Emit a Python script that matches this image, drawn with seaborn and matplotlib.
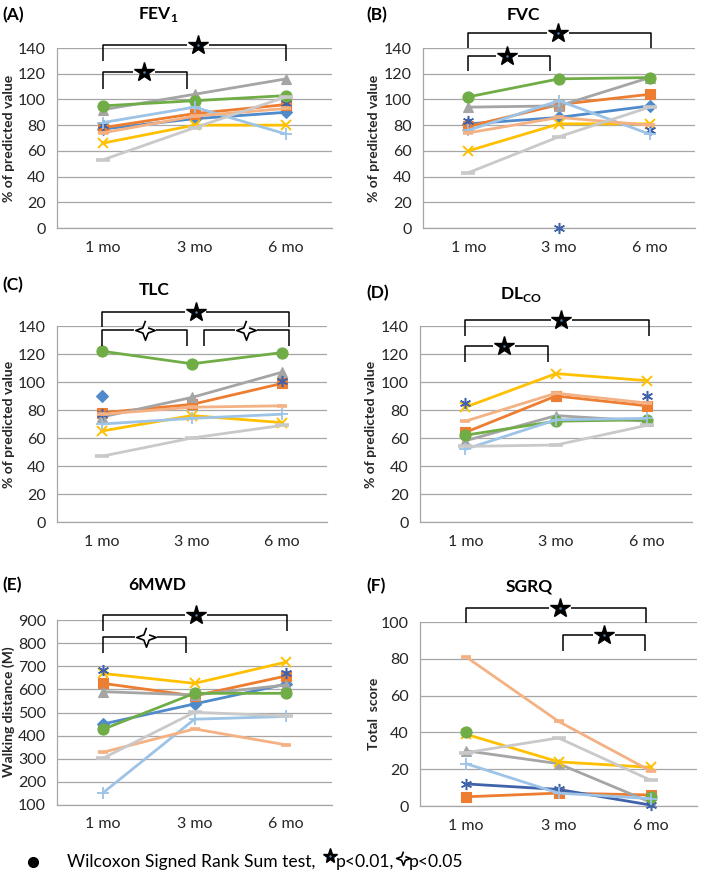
import numpy as np
import pandas as pd
import matplotlib
matplotlib.use("Agg")
import matplotlib.pyplot as plt
import seaborn as sns

nan = np.nan

# time points
months = ["1 mo", "3 mo", "6 mo"]

# one row per patient series: diamond, square, triangle, x, asterisk, circle, plus, dash, long dash
fev1 = [
    [77, 85, 90],
    [78, 89, 96],
    [92, 104, 116],
    [66, 80, 80],
    [80, nan, 97],
    [95, 99, 103],
    [82, 94, 73],
    [74, 87, 93],
    [53, 78, 102],
]
fvc = [
    [81, 86, 95],
    [79, 96, 104],
    [94, 95, 117],
    [60, 81, 81],
    [83, 0, 76],
    [102, 116, 117],
    [76, 99, 73],
    [74, 86, 80],
    [43, 71, 94],
]
tlc = [
    [90, nan, nan],
    [78, 84, 99],
    [75, 89, 107],
    [65, 76, 71],
    [77, nan, 101],
    [122, 113, 121],
    [70, 74, 77],
    [77, 82, 83],
    [47, 60, 69],
]
dlco = [
    [nan, nan, nan],
    [64, 90, 83],
    [58, 76, 72],
    [82, 106, 101],
    [85, nan, 90],
    [62, 72, 73],
    [52, 73, 74],
    [72, 92, 85],
    [54, 55, 69],
]
mwd = [
    [450, 537, 623],
    [626, 572, 658],
    [590, 576, 619],
    [669, 626, 718],
    [684, nan, 672],
    [427, 583, 583],
    [152, 471, 483],
    [328, 429, 360],
    [302, 501, 485],
]
sgrq = [
    [nan, nan, nan],
    [5, 7, 6],
    [30, 23, 2],
    [39, 24, 21],
    [12, 9, 0.5],
    [40, nan, 5],
    [23, 7, 4],
    [81, 46, 19],
    [29, 37, 14],
]

colors = ["#4F8ACB", "#ED7D31", "#A5A5A5", "#FFC000", "#3F62AA",
          "#70AD47", "#9DC3E6", "#F4B183", "#C9C9C9"]
star_verts = [(np.cos(a) * r, np.sin(a) * r)
              for k, a in enumerate(np.linspace(np.pi / 2, np.pi / 2 + 2 * np.pi, 9)[:-1])
              for r in [1.0 if k % 2 == 0 else 0.38]]
markers = ["D", "s", "^", "x", (6, 2, 0), "o", "+", "_", "_"]
msizes = [6.5, 7, 7.5, 7.5, 8, 8, 8, 7, 10]
mews = [0.8, 0.8, 0.8, 1.4, 1.1, 0.8, 1.3, 2.6, 2.6]

sns.set_theme(style="white")
plt.rcParams["font.family"] = ["Lato", "DejaVu Sans"]
plt.rcParams["mathtext.fontset"] = "custom"
plt.rcParams["mathtext.rm"] = "Lato"
plt.rcParams["mathtext.bf"] = "Lato:bold"

W, H = 709, 873
fig = plt.figure(figsize=(W / 100, H / 100), dpi=100)


def box(l, r, t, b):
    return [l / W, 1 - b / H, (r - l) / W, (b - t) / H]


def ptext(x, y, s, **kw):
    fig.text(x / W, 1 - y / H, s, **kw)


def filled_star(ax, x, y, ms=15):
    ax.plot(x, y, marker="*", ms=ms, color="black", mec="black", clip_on=False, zorder=20)
    ax.plot(x, y, marker="o", ms=1.8, color="#4F81BD", mec="none", clip_on=False, zorder=21)


def open_star(ax, x, y, ms=14):
    ax.plot(x, y, marker=star_verts, ms=ms, mfc="white", mec="black", mew=1.2,
            clip_on=False, zorder=20)


def bracket(ax, x0, x1, y, ydrop, sx, kind, gap=0.12):
    kw = dict(color="black", lw=1.1, clip_on=False, zorder=15, solid_capstyle="butt")
    ax.plot([x0, x0, sx - gap], [ydrop, y, y], **kw)
    ax.plot([sx + gap, x1, x1], [y, y, ydrop], **kw)
    if kind == "f":
        filled_star(ax, sx, y)
    else:
        open_star(ax, sx, y)


def panel(rect, rows, ylim, yticks, brackets, no_line=()):
    ax = fig.add_axes(rect)
    for i, vals in enumerate(rows):
        df = pd.DataFrame({"t": [0, 1, 2], "v": vals}).dropna()
        if df.empty:
            continue
        gap = np.isnan(vals[1]) and not np.isnan(vals[0])
        line = not (gap or i in no_line or len(df) < 2)
        sns.lineplot(data=df, x="t", y="v", ax=ax, color=colors[i],
                     marker=markers[i], markersize=msizes[i],
                     markeredgecolor=colors[i], markerfacecolor=colors[i],
                     markeredgewidth=mews[i], linewidth=2.0 if line else 0,
                     zorder=3 + i, clip_on=False)
    ax.set_xlim(-0.5, 2.5)
    ax.set_ylim(*ylim)
    ax.set_yticks(yticks)
    ax.set_xticks([0, 1, 2])
    ax.set_xticklabels(months)
    ax.set_xlabel("")
    ax.set_ylabel("")
    ax.set_axisbelow(True)
    ax.yaxis.grid(True, color="#A6A6A6", lw=0.9)
    ax.xaxis.grid(False)
    for s in ["top", "right"]:
        ax.spines[s].set_visible(False)
    for s in ["left", "bottom"]:
        ax.spines[s].set_color("#A6A6A6")
        ax.spines[s].set_linewidth(0.9)
    ax.tick_params(axis="y", length=0, pad=8, labelsize=11.5, colors="#262626")
    ax.tick_params(axis="x", length=0, pad=9, labelsize=11.5, colors="#262626")
    for b in brackets:
        bracket(ax, *b)
    return ax


t140 = range(0, 141, 20)

panel(box(57, 332, 48, 228), fev1, (0, 140), t140,
      [(0, 2.0, 142, 130, 1.04, "f"), (0, 0.92, 121, 108, 0.45, "f")])
panel(box(423, 695, 48, 228), fvc, (0, 140), t140,
      [(0, 2.01, 152, 140, 0.99, "f"), (0, 0.9, 134, 122, 0.43, "f")], no_line=(4,))
panel(box(57, 327, 326, 522), tlc, (0, 140), t140,
      [(0, 2.08, 150, 139.5, 1.04, "f"), (0, 0.94, 137, 125.7, 0.48, "o"),
       (1.13, 2.08, 137, 125.7, 1.6, "o")])
panel(box(420, 692, 326, 522), dlco, (0, 140), t140,
      [(0, 2.03, 144, 133, 1.06, "f"), (0, 0.91, 125.7, 114.6, 0.43, "f")])
panel(box(57, 332, 620, 805), mwd, (100, 900), range(100, 901, 100),
      [(0, 2.01, 921, 854, 1.02, "f"), (0, 0.91, 825, 756, 0.47, "o")])
panel(box(420, 697, 622, 806), sgrq, (0, 100), range(0, 101, 20),
      [(0, 1.95, 107.8, 99.5, 1.02, "f"), (1.05, 1.94, 92.8, 84.3, 1.49, "f")])

# y axis titles
ykw = dict(fontsize=10, fontweight="bold", rotation=90, ha="center", va="center")
pct = "% of predicted value"
ptext(9, 138, pct, **ykw)
ptext(374, 138, pct, **ykw)
ptext(9, 424, pct, **ykw)
ptext(371, 424, pct, **ykw)
ptext(9, 712, "Walking distance (M)", **ykw)
ptext(374, 714, "Total  score", **ykw)

# panel letters and titles
tkw = dict(fontsize=12.5, fontweight="bold", va="center", color="black")
ptext(2, 15, "(A)", ha="left", **tkw)
ptext(158, 15, r"FEV$_\mathbf{1}$", ha="center", **tkw)
ptext(366, 15, "(B)", ha="left", **tkw)
ptext(523, 15, "FVC", ha="center", **tkw)
ptext(2, 285, "(C)", ha="left", **tkw)
ptext(154, 290, "TLC", ha="center", **tkw)
ptext(366, 293, "(D)", ha="left", **tkw)
ptext(521, 294, r"DL$_\mathbf{CO}$", ha="center", **tkw)
ptext(2, 585, "(E)", ha="left", **tkw)
ptext(157, 585, "6MWD", ha="center", **tkw)
ptext(366, 586, "(F)", ha="left", **tkw)
ptext(529, 586, "SGRQ", ha="center", **tkw)

# footnote
over = fig.add_axes([0, 0, 1, 1])
over.set_xlim(0, W)
over.set_ylim(H, 0)
over.axis("off")
over.plot(33, 862, marker="o", ms=7, color="black")
fkw = dict(fontsize=12.6, va="center", ha="left", color="black")
ptext(67, 862, "Wilcoxon Signed Rank Sum test,", **fkw)
filled_star(over, 330, 856, ms=11)
ptext(336, 862, "p<0.01,", **fkw)
open_star(over, 403, 858, ms=10)
ptext(409, 862, "p<0.05", **fkw)

fig.savefig("out.png", dpi=100)
